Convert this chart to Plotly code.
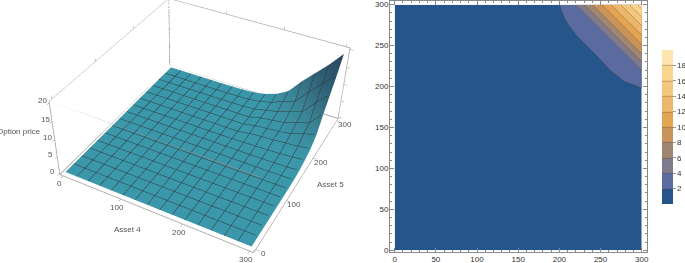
import plotly.graph_objects as go

asset4 = [0, 20, 40, 60, 80, 100, 120, 140, 160, 180, 200, 220, 240, 260, 280, 300]
asset5 = [0, 20, 40, 60, 80, 100, 120, 140, 160, 180, 200, 220, 240, 260, 280, 300]
zero10 = [0.0] * 10
price = [
    zero10 + [0, 0, 0, 0, 0, 0],
    zero10 + [0, 0, 0, 0, 0, 0],
    zero10 + [0, 0, 0, 0, 0, 0],
    zero10 + [0, 0, 0, 0, 0, 0],
    zero10 + [0, 0, 0, 0, 0, 0],
    zero10 + [0, 0, 0, 0, 0, 0.02],
    zero10 + [0, 0, 0, 0, 0.02, 0.05],
    zero10 + [0, 0, 0, 0, 0.05, 0.12],
    zero10 + [0, 0, 0.02, 0.06, 0.15, 0.4],
    zero10 + [0.1, 0.2, 0.3, 0.45, 0.7, 1.1],
    zero10 + [0.5, 0.8, 1.0, 1.3, 1.6, 2.1],
    zero10 + [0.7, 1.0, 1.3, 1.9, 3.0, 4.0],
    zero10 + [0.9, 1.3, 1.8, 3.0, 4.0, 8.0],
    [0, 0, 0, 0, 0, 0, 0.02, 0.05, 0.1, 0.3, 1.1, 1.8, 3.0, 4.0, 8.0, 11.5],
    [0, 0, 0, 0, 0, 0, 0.02, 0.05, 0.2, 0.6, 1.4, 2.9, 4.0, 8.0, 11.5, 15.0],
    [0, 0, 0, 0, 0, 0, 0.02, 0.1, 0.3, 0.9, 2.0, 4.0, 8.0, 11.5, 15.0, 19.0],
]
levels = [2, 4, 6, 8, 10, 12, 14, 16, 18]
band_colors = ["#25558a", "#5b6ba0", "#7f7a8c", "#a08670", "#c9935a",
               "#e4a552", "#ecb76b", "#f3c77e", "#f9d48f", "#fde6ad"]
axis_ticks = [0, 100, 200, 300]
z_ticks = [0, 5, 10, 15, 20]
surface_scale = [[0, "#3b97aa"], [0.04, "#3b97aa"], [0.3, "#3a7d8f"], [0.6, "#2f5f75"], [1, "#26405a"]]
box_lo, box_hi = -6, 306
z_lo, z_hi = -0.4, 20.4

FIG_H = 601
TOP = 169


def frac(page_y):
    return (FIG_H - TOP - page_y) / FIG_H


step = []
n = len(band_colors)
for i, c in enumerate(band_colors):
    step += [[i / n, c], [(i + 1) / n, c]]

fig = go.Figure()
mesh = dict(show=True, start=0, end=300, size=20, color="#2f383c", width=1)
fig.add_trace(go.Surface(
    x=asset4, y=asset5, z=price, surfacecolor=price, colorscale=surface_scale,
    cmin=0, cmax=20, showscale=False,
    lighting=dict(ambient=1, diffuse=0, specular=0, roughness=1, fresnel=0),
    contours=dict(x=mesh, y=mesh),
    scene="scene",
))

# Bounding box edges, so that the front edges are drawn over the surface as well.
edge_x, edge_y, edge_z = [], [], []
xy = [box_lo, box_hi]
zs = [z_lo, z_hi]
for a in xy:
    for b in xy:
        edge_x += [a, a, None]; edge_y += [b, b, None]; edge_z += [z_lo, z_hi, None]
    for c in zs:
        edge_x += [a, a, None]; edge_y += [box_lo, box_hi, None]; edge_z += [c, c, None]
        edge_x += [box_lo, box_hi, None]; edge_y += [a, a, None]; edge_z += [c, c, None]
fig.add_trace(go.Scatter3d(x=edge_x, y=edge_y, z=edge_z, mode="lines", hoverinfo="skip",
                           line=dict(color="#8f8f8f", width=1.5), scene="scene"))

fig.add_trace(go.Contour(
    x=asset4, y=asset5, z=price, colorscale=step, zmin=0, zmax=20,
    autocontour=False, contours=dict(start=levels[0], end=levels[-1], size=2, coloring="fill"),
    line=dict(color="rgba(90,70,50,0.55)", width=0.6, smoothing=0),
    colorbar=dict(x=662 / 685, xanchor="left", y=frac(127), yanchor="middle", len=154 / FIG_H, lenmode="fraction",
                  thickness=11, outlinewidth=0, tickvals=levels, ticks="outside", ticklen=3, xpad=0, ypad=0,
                  tickcolor="#999", tickfont=dict(size=8, color="#333", family="Liberation Sans")),
    xaxis="x", yaxis="y",
))

axis3d = dict(showbackground=False, showgrid=False, zeroline=False, showline=True, mirror="all",
              linecolor="#aaaaaa", linewidth=1, ticks="outside", ticklen=3, tickcolor="#999",
              showticklabels=False, title=dict(text=""), showspikes=False)
axis2d = dict(showgrid=False, zeroline=False, showline=True, linecolor="#888", linewidth=1, mirror="allticks",
              ticks="inside", ticklen=4, tickcolor="#888", dtick=50, ticklabeloverflow="allow",
              ticklabelstandoff=-1,
              minor=dict(ticks="inside", ticklen=2, dtick=10, tickcolor="#888"),
              tickfont=dict(size=8, color="#333", family="Liberation Sans"))


def label(text, x, y, z, dx, dy):
    return dict(text=text, x=x, y=y, z=z, xshift=dx, yshift=-dy, showarrow=False,
                font=dict(size=8, color="#555", family="Liberation Sans"))


notes = []
notes += [label(str(v), v, box_lo, z_lo, -4, 8) for v in axis_ticks]
notes += [label(str(v), box_hi, v, z_lo, 8, 4) for v in axis_ticks]
notes += [label(str(v), box_lo, box_lo, v, -7, -2) for v in z_ticks]
notes += [label("Asset 4", 150, box_lo, z_lo, -24, 18), label("Asset 5", box_hi, 150, z_lo, 30, 6),
          label("Option price", box_lo, box_lo, 10, -36, -8)]

fig.update_layout(
    width=685, height=FIG_H, margin=dict(l=0, r=0, t=0, b=0, autoexpand=False), paper_bgcolor="white",
    plot_bgcolor="white", showlegend=False,
    xaxis=dict(domain=[390 / 685, 647 / 685], range=[-5.7, 306.4], **axis2d),
    yaxis=dict(domain=[frac(252), frac(1)], range=[-2.1, 304.5], **axis2d),
    scene=dict(
        domain=dict(x=[0, 370 / 685], y=[0, 1]),
        xaxis=dict(range=[box_lo, box_hi], tickvals=axis_ticks, **axis3d),
        yaxis=dict(range=[box_lo, box_hi], tickvals=axis_ticks, **axis3d),
        zaxis=dict(range=[z_lo, z_hi], tickvals=z_ticks, **axis3d),
        aspectmode="manual", aspectratio=dict(x=1, y=1.039, z=0.429),
        camera=dict(eye=dict(x=1.231, y=-2.439, z=2.095), center=dict(x=0.006, y=-0.219, z=0.031), up=dict(x=0, y=0, z=1)),
        annotations=notes,
    ),
)
fig.write_html("out.html", config=dict(displayModeBar=False), post_script=(
    "document.documentElement.style.overflow='hidden';"
    "document.body.style.overflow='hidden';"
    f"document.body.style.margin='-{TOP}px 0 0 0';"
))
